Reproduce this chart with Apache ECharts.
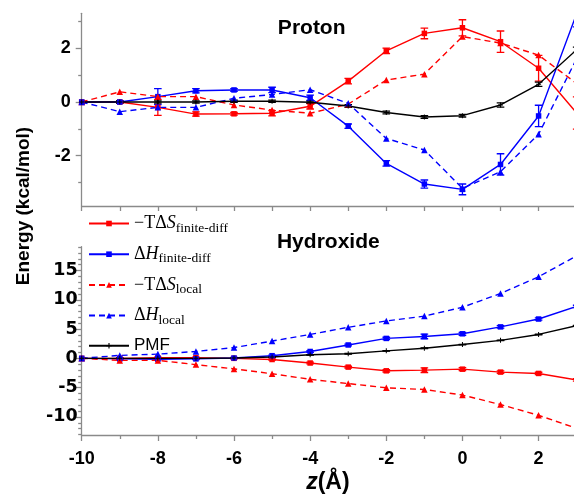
<!DOCTYPE html>
<html>
<head>
<meta charset="utf-8">
<script src="https://cdn.jsdelivr.net/npm/echarts@6/dist/echarts.min.js"></script>
<style>html,body{margin:0;padding:0;background:#fff}#c{width:574px;height:495px}</style>
</head>
<body>
<div id="c"></div>
<script>
// x positions (Å)
const zValues = [-10, -9, -8, -7, -6, -5, -4, -3, -2, -1, 0, 1, 2, 3];
const xTickLabels = [-10, -8, -6, -4, -2, 0, 2];
const protonTickLabels = [-2, 0, 2];
const hydroxideTickLabels = [-10, -5, 0, 5, 10, 15];

// Proton panel
const protonTdsFinite = [0, 0, -0.2, -0.45, -0.44, -0.42, -0.16, 0.78, 1.91, 2.56, 2.77, 2.25, 1.26, -0.41];
const protonTdsFiniteErr = [0, 0.04, 0.3, 0.08, 0.05, 0.1, 0.1, 0.1, 0.1, 0.2, 0.3, 0.4, 0.48, 0.6];
const protonDhFinite = [0, 0, 0.2, 0.42, 0.45, 0.45, 0.16, -0.9, -2.29, -3.06, -3.26, -2.33, -0.52, 3.3];
const protonDhFiniteErr = [0, 0.04, 0.3, 0.08, 0.05, 0.1, 0.1, 0.08, 0.1, 0.15, 0.2, 0.4, 0.4, 0.5];
const protonTdsLocal = [0, 0.38, 0.2, 0.2, -0.11, -0.3, -0.42, -0.08, 0.82, 1.04, 2.44, 2.2, 1.75, 0.69];
const protonDhLocal = [0, -0.36, -0.2, -0.2, 0.14, 0.28, 0.46, -0.05, -1.36, -1.79, -3.22, -2.6, -1.2, 1.62];
const protonPmf = [0, 0, 0, 0, 0.03, 0.03, -0.01, -0.15, -0.39, -0.56, -0.51, -0.11, 0.66, 1.95];
const protonPmfErr = [0.04, 0.04, 0.04, 0.04, 0.04, 0.04, 0.04, 0.05, 0.05, 0.05, 0.05, 0.08, 0.08, 0.1];

// Hydroxide panel
const hydTdsFinite = [0, 0, 0.1, 0.1, 0, -0.2, -0.8, -1.5, -2.13, -2.02, -1.85, -2.35, -2.58, -3.68];
const hydTdsFiniteErr = [0, 0.1, 0.1, 0.1, 0.1, 0.1, 0.15, 0.15, 0.2, 0.4, 0.25, 0.2, 0.2, 0.2];
const hydDhFinite = [0, -0.1, -0.15, -0.1, 0.05, 0.45, 1.17, 2.28, 3.4, 3.74, 4.19, 5.37, 6.71, 8.86];
const hydDhFiniteErr = [0, 0.1, 0.1, 0.1, 0.1, 0.1, 0.15, 0.15, 0.2, 0.4, 0.25, 0.2, 0.2, 0.2];
const hydTdsLocal = [0, -0.35, -0.35, -1.07, -1.8, -2.63, -3.58, -4.31, -5.03, -5.32, -6.27, -7.89, -9.73, -11.96];
const hydDhLocal = [0, 0.5, 0.72, 1.17, 1.84, 2.95, 4.08, 5.3, 6.38, 7.21, 8.72, 11.07, 13.93, 17.5];
const hydPmf = [0, 0, 0, 0, 0.05, 0.22, 0.6, 0.78, 1.28, 1.73, 2.35, 3.07, 4.08, 5.57];
const hydPmfErr = [0.05, 0.05, 0.05, 0.05, 0.05, 0.05, 0.05, 0.05, 0.05, 0.05, 0.05, 0.05, 0.05, 0.05];

const names = ['-TΔS finite-diff', 'ΔH finite-diff', '-TΔS local', 'ΔH local', 'PMF'];

const RED = '#ff0000', BLUE = '#0000ff', BLACK = '#000000', AX = '#8a8a8a';
const pairs = arr => zValues.map((z, i) => [z, arr[i]]);
const errs = (arr, e) => zValues.map((z, i) => [z, arr[i] - e[i], arr[i] + e[i]]);
const range = (a, b) => { const r = []; for (let v = a; v <= b; v++) r.push(v); return r; };

const X_MIN = -10, X_MAX = 2.93;
const P_MIN = -3.88, P_MAX = 3.31;
const H_MIN = -13.09, H_MAX = 19.06;

const plus = 'path://M4,0H6V4H10V6H6V10H4V6H0V4H4Z';

function lineSeries(name, data, color, dashed, symbol, size, xi, yi) {
  return {
    type: 'line', name, data, xAxisIndex: xi, yAxisIndex: yi,
    symbol, symbolSize: size, showSymbol: true,
    itemStyle: { color }, lineStyle: { color, width: 1.4, type: dashed ? [6, 4] : 'solid' },
    clip: true, z: 3
  };
}
function errSeries(data, color, xi, yi) {
  return {
    type: 'custom', xAxisIndex: xi, yAxisIndex: yi, data, clip: true, z: 2,
    encode: { x: 0, y: [1, 2] },
    renderItem: function (params, api) {
      const x = api.value(0), lo = api.value(1), hi = api.value(2);
      const p1 = api.coord([x, lo]), p2 = api.coord([x, hi]);
      const w = 3.8, st = { stroke: color, lineWidth: 1.3 };
      return {
        type: 'group', children: [
          { type: 'line', shape: { x1: p1[0], y1: p1[1], x2: p2[0], y2: p2[1] }, style: st },
          { type: 'line', shape: { x1: p1[0] - w, y1: p1[1], x2: p1[0] + w, y2: p1[1] }, style: st },
          { type: 'line', shape: { x1: p2[0] - w, y1: p2[1], x2: p2[0] + w, y2: p2[1] }, style: st }
        ]
      };
    }
  };
}

const axisLine = { show: true, onZero: false, lineStyle: { color: AX, width: 1.3 } };
const noLine = { show: false, onZero: false };
const labelFont = { fontFamily: 'Liberation Sans', fontWeight: 'bold', fontSize: 18, color: '#000' };
const labelFontWide = { fontFamily: 'DejaVu Sans', fontWeight: 'bold', fontSize: 17.5, color: '#000' };

const xAxes = [
  // 0: top panel
  { type: 'value', gridIndex: 0, position: 'bottom', min: X_MIN, max: X_MAX, axisLine,
    axisTick: { show: true, customValues: range(-10, 2), length: 5, lineStyle: { color: AX, width: 1.3 } },
    axisLabel: { show: false }, splitLine: { show: false } },
  // 1: bottom panel major
  { type: 'value', gridIndex: 1, position: 'bottom', min: X_MIN, max: X_MAX, axisLine,
    axisTick: { show: true, customValues: xTickLabels, length: 6, lineStyle: { color: AX, width: 1.3 } },
    axisLabel: Object.assign({ show: true, customValues: xTickLabels, margin: 15 }, labelFont),
    splitLine: { show: false },
    name: '{z|z}{p|(Å)}', nameLocation: 'middle', nameGap: 36,
    nameTextStyle: { rich: {
      z: { fontFamily: 'Liberation Sans', fontWeight: 'bold', fontStyle: 'italic', fontSize: 23, color: '#000' },
      p: { fontFamily: 'Liberation Sans', fontWeight: 'bold', fontSize: 23, color: '#000' } } } },
  // 2: bottom panel minor ticks
  { type: 'value', gridIndex: 1, position: 'bottom', min: X_MIN, max: X_MAX, axisLine: noLine,
    axisTick: { show: true, customValues: [-9, -7, -5, -3, -1, 1], length: 4, lineStyle: { color: AX, width: 1.3 } },
    axisLabel: { show: false }, splitLine: { show: false } }
];

const yAxes = [
  // 0: top major
  { type: 'value', gridIndex: 0, position: 'left', min: P_MIN, max: P_MAX, axisLine,
    axisTick: { show: true, customValues: protonTickLabels, length: 6, lineStyle: { color: AX, width: 1.3 } },
    axisLabel: Object.assign({ show: true, customValues: protonTickLabels, margin: 11 }, labelFont),
    splitLine: { show: false } },
  // 1: top minor
  { type: 'value', gridIndex: 0, position: 'left', min: P_MIN, max: P_MAX, axisLine: noLine,
    axisTick: { show: true, customValues: [-3, -1, 1, 3], length: 3.5, lineStyle: { color: AX, width: 1.3 } },
    axisLabel: { show: false }, splitLine: { show: false } },
  // 2: bottom major
  { type: 'value', gridIndex: 1, position: 'left', min: H_MIN, max: H_MAX, axisLine,
    axisTick: { show: true, customValues: hydroxideTickLabels, length: 6, lineStyle: { color: AX, width: 1.3 } },
    axisLabel: Object.assign({ show: true, customValues: hydroxideTickLabels, margin: 4 }, labelFontWide),
    splitLine: { show: false } },
  // 3: bottom minor
  { type: 'value', gridIndex: 1, position: 'left', min: H_MIN, max: H_MAX, axisLine: noLine,
    axisTick: { show: true, customValues: range(-13, 19).filter(v => v % 5 !== 0), length: 3.5, lineStyle: { color: AX, width: 1.3 } },
    axisLabel: { show: false }, splitLine: { show: false } }
];

const series = [
  errSeries(errs(protonTdsFinite, protonTdsFiniteErr), RED, 0, 0),
  errSeries(errs(protonDhFinite, protonDhFiniteErr), BLUE, 0, 0),
  errSeries(errs(protonPmf, protonPmfErr), BLACK, 0, 0),
  lineSeries(names[0], pairs(protonTdsFinite), RED, false, 'rect', 5.5, 0, 0),
  lineSeries(names[1], pairs(protonDhFinite), BLUE, false, 'rect', 5.5, 0, 0),
  lineSeries(names[2], pairs(protonTdsLocal), RED, true, 'triangle', 6.5, 0, 0),
  lineSeries(names[3], pairs(protonDhLocal), BLUE, true, 'triangle', 6.5, 0, 0),
  lineSeries(names[4], pairs(protonPmf), BLACK, false, plus, 5, 0, 0),

  errSeries(errs(hydTdsFinite, hydTdsFiniteErr), RED, 1, 2),
  errSeries(errs(hydDhFinite, hydDhFiniteErr), BLUE, 1, 2),
  errSeries(errs(hydPmf, hydPmfErr), BLACK, 1, 2),
  lineSeries(names[0], pairs(hydTdsFinite), RED, false, 'rect', 5.5, 1, 2),
  lineSeries(names[1], pairs(hydDhFinite), BLUE, false, 'rect', 5.5, 1, 2),
  lineSeries(names[2], pairs(hydTdsLocal), RED, true, 'triangle', 6.5, 1, 2),
  lineSeries(names[3], pairs(hydDhLocal), BLUE, true, 'triangle', 6.5, 1, 2),
  lineSeries(names[4], pairs(hydPmf), BLACK, false, plus, 5, 1, 2)
];

const legendText = {
  '-TΔS finite-diff': '{m|\u2212TΔ}{i|S}{s|finite-diff}',
  'ΔH finite-diff': '{m|Δ}{i|H}{s|finite-diff}',
  '-TΔS local': '{m|\u2212TΔ}{i|S}{s|local}',
  'ΔH local': '{m|Δ}{i|H}{s|local}',
  'PMF': '{p|PMF}'
};

const chart = echarts.init(document.getElementById('c'), null, { renderer: 'canvas' });
chart.setOption({
  animation: false,
  backgroundColor: '#fff',
  grid: [
    { left: 81.7, top: 13.3, width: 492.3, height: 192.7, containLabel: false },
    { left: 81.7, top: 246.7, width: 492.3, height: 191.6, containLabel: false }
  ],
  xAxis: xAxes,
  yAxis: yAxes,
  legend: {
    data: names, orient: 'vertical', left: 88, top: 212,
    itemWidth: 40, itemHeight: 7, itemGap: 7.7, padding: 0,
    selectedMode: false,
    formatter: n => legendText[n],
    textStyle: {
      color: '#000', lineHeight: 22,
      rich: {
        m: { fontFamily: 'Liberation Serif', fontSize: 18, color: '#000', lineHeight: 22 },
        i: { fontFamily: 'Liberation Serif', fontSize: 18, fontStyle: 'italic', color: '#000', lineHeight: 22 },
        s: { fontFamily: 'Liberation Serif', fontSize: 13.5, color: '#000', lineHeight: 22, padding: [9, 0, 0, 0] },
        p: { fontFamily: 'Liberation Sans', fontSize: 17, color: '#000', lineHeight: 22 }
      }
    }
  },
  graphic: [
    { type: 'text', x: 311.7, y: 28, style: { text: 'Proton', fontFamily: 'Liberation Sans', fontWeight: 'bold', fontSize: 21, fill: '#000', textAlign: 'center', textVerticalAlign: 'middle' } },
    { type: 'text', x: 328.3, y: 242.5, style: { text: 'Hydroxide', fontFamily: 'Liberation Sans', fontWeight: 'bold', fontSize: 21, fill: '#000', textAlign: 'center', textVerticalAlign: 'middle' } },
    { type: 'text', x: 24, y: 206, rotation: Math.PI / 2, style: { text: 'Energy (kcal/mol)', fontFamily: 'Liberation Sans', fontWeight: 'bold', fontSize: 19, fill: '#000', textAlign: 'center', textVerticalAlign: 'middle' } }
  ],
  series
});
</script>
</body>
</html>
